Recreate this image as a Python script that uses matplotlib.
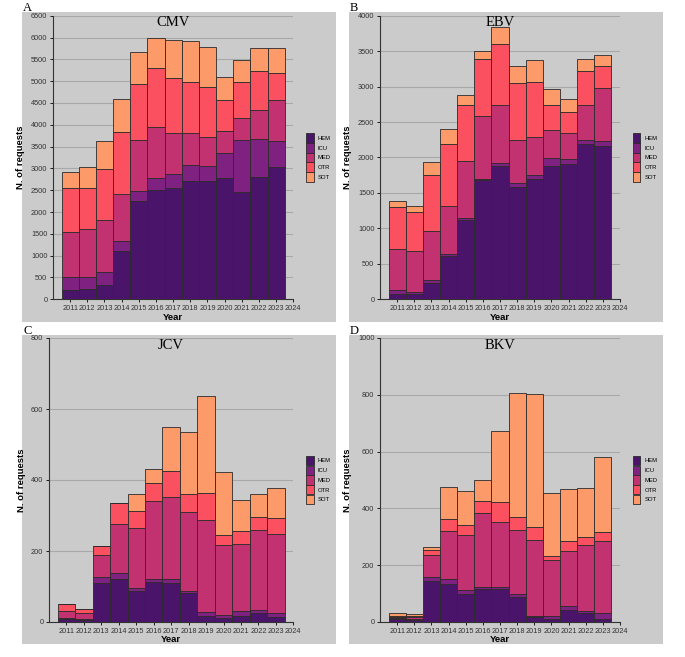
import matplotlib
matplotlib.use("Agg")
import matplotlib.pyplot as plt
from matplotlib.patches import Rectangle
import numpy as np

plt.rcParams["font.family"] = ["Liberation Sans", "DejaVu Sans"]

years = list(range(2011, 2024))
groups = ["HEM", "ICU", "MED", "OTR", "SOT"]
colors = ["#4b146b", "#7e2180", "#c23270", "#fb5060", "#fd9a69"]

# Cumulative tops (HEM, +ICU, +MED, +OTR, +SOT)
cmv_cum = [
    [210, 510, 1540, 2550, 2920],
    [240, 500, 1610, 2550, 3030],
    [330, 620, 1820, 2990, 3630],
    [1110, 1340, 2410, 3840, 4590],
    [2250, 2480, 3650, 4930, 5660],
    [2500, 2780, 3960, 5300, 5990],
    [2550, 2870, 3810, 5070, 5940],
    [2710, 3070, 3810, 4980, 5920],
    [2710, 3060, 3720, 4860, 5780],
    [2780, 3350, 3860, 4570, 5090],
    [2460, 3650, 4160, 4980, 5480],
    [2800, 3670, 4330, 5240, 5760],
    [3030, 3630, 4560, 5180, 5760],
]
ebv_cum = [
    [75, 125, 705, 1300, 1380],
    [75, 110, 680, 1230, 1315],
    [230, 270, 970, 1755, 1935],
    [610, 645, 1315, 2185, 2400],
    [1120, 1145, 1950, 2740, 2880],
    [1680, 1690, 2585, 3390, 3500],
    [1880, 1925, 2735, 3600, 3835],
    [1585, 1640, 2250, 3045, 3290],
    [1700, 1750, 2295, 3065, 3375],
    [1880, 1995, 2390, 2740, 2960],
    [1910, 1980, 2345, 2645, 2825],
    [2190, 2245, 2745, 3220, 3390],
    [2160, 2235, 2980, 3290, 3445],
]
jcv_cum = [
    [9, 12, 31, 50, 50],
    [6, 9, 25, 38, 38],
    [110, 127, 190, 215, 215],
    [122, 138, 275, 335, 335],
    [88, 97, 266, 312, 360],
    [113, 120, 342, 392, 432],
    [110, 122, 352, 424, 548],
    [82, 88, 311, 360, 535],
    [18, 27, 287, 362, 638],
    [10, 20, 216, 246, 422],
    [18, 30, 220, 256, 345],
    [24, 33, 258, 295, 360],
    [13, 24, 247, 292, 378],
]
bkv_cum = [
    [9, 14, 17, 22, 30],
    [8, 12, 18, 22, 28],
    [143, 157, 237, 253, 264],
    [133, 150, 320, 362, 475],
    [97, 112, 305, 340, 460],
    [116, 123, 385, 427, 499],
    [116, 125, 352, 421, 671],
    [88, 98, 325, 368, 805],
    [17, 22, 287, 333, 802],
    [12, 22, 220, 234, 453],
    [44, 56, 250, 285, 470],
    [30, 37, 270, 298, 473],
    [12, 30, 284, 317, 580],
]

W, H = 685, 657
fig = plt.figure(figsize=(W / 100, H / 100), dpi=100)

bg = "#cbcbcb"

def px_rect(x0, y0, x1, y1):
    return [x0 / W, 1 - y1 / H, (x1 - x0) / W, (y1 - y0) / H]

panels = [
    ("A", "CMV", cmv_cum, 6500, 500, (22, 12, 336, 322), (53, 15.7, 293.3, 299.3)),
    ("B", "EBV", ebv_cum, 4000, 500, (349, 12, 663, 322), (380, 15.7, 620, 299.3)),
    ("C", "JCV", jcv_cum, 800, 200, (22, 335, 336, 644), (49, 338, 293.3, 622)),
    ("D", "BKV", bkv_cum, 1000, 200, (349, 335, 663, 644), (380, 338, 620, 622)),
]

for letter, title, cum, ymax, ystep, bgbox, axbox in panels:
    bx0, by0, bx1, by1 = bgbox
    fig.patches.append(Rectangle((bx0 / W, 1 - by1 / H), (bx1 - bx0) / W, (by1 - by0) / H,
                                 transform=fig.transFigure, facecolor=bg, edgecolor="none", zorder=-10))
    fig.text((bx0 + 1) / W, 1 - (by0 - 1) / H, letter, family="Liberation Serif", fontsize=9,
             ha="left", va="baseline")
    ax = fig.add_axes(px_rect(*axbox))
    ax.set_facecolor("none")
    ax.set_zorder(2)
    cum_arr = np.array(cum)
    bottoms = np.zeros(len(years))
    for gi, g in enumerate(groups):
        tops = cum_arr[:, gi]
        heights = tops - bottoms
        ax.bar(years, heights, bottom=bottoms, width=1.0, color=colors[gi],
               edgecolor="#2a2a2a", linewidth=0.6, label=g, zorder=3)
        bottoms = tops.astype(float)
    ax.set_xlim(2010, 2024)
    ax.set_ylim(0, ymax)
    ax.set_xticks(list(range(2011, 2025)))
    ax.set_xticklabels([str(y) for y in range(2011, 2025)], fontsize=5.3, color="#333333")
    ax.set_yticks(np.arange(0, ymax + 1, ystep))
    ax.tick_params(axis="y", labelsize=5.3, labelcolor="#333333", length=2.5, width=0.6, pad=1.5)
    ax.tick_params(axis="x", length=2.5, width=0.6, pad=1.5)
    ax.grid(axis="y", color="#a8a8a8", linewidth=0.8, zorder=1)
    for s in ["top", "right"]:
        ax.spines[s].set_visible(False)
    ax.spines["left"].set_color("#333333")
    ax.spines["bottom"].set_color("#333333")
    ax.spines["left"].set_linewidth(0.8)
    ax.spines["bottom"].set_linewidth(0.8)
    ax.set_xlabel("Year", fontsize=6.8, fontweight="bold", labelpad=0.5)
    ax.set_ylabel("N. of requests", fontsize=6.8, fontweight="bold", labelpad=4)
    ax.text(0.5, 0.998, title, transform=ax.transAxes, ha="center", va="top",
            family="Liberation Serif", fontsize=10.5)
    leg = ax.legend(loc="center left", bbox_to_anchor=(1.04, 0.5), frameon=False,
                    fontsize=4.2, handlelength=1.35, handleheight=2.1, labelspacing=0.05,
                    handletextpad=0.7, borderpad=0)

fig.savefig("out.png", dpi=100)
